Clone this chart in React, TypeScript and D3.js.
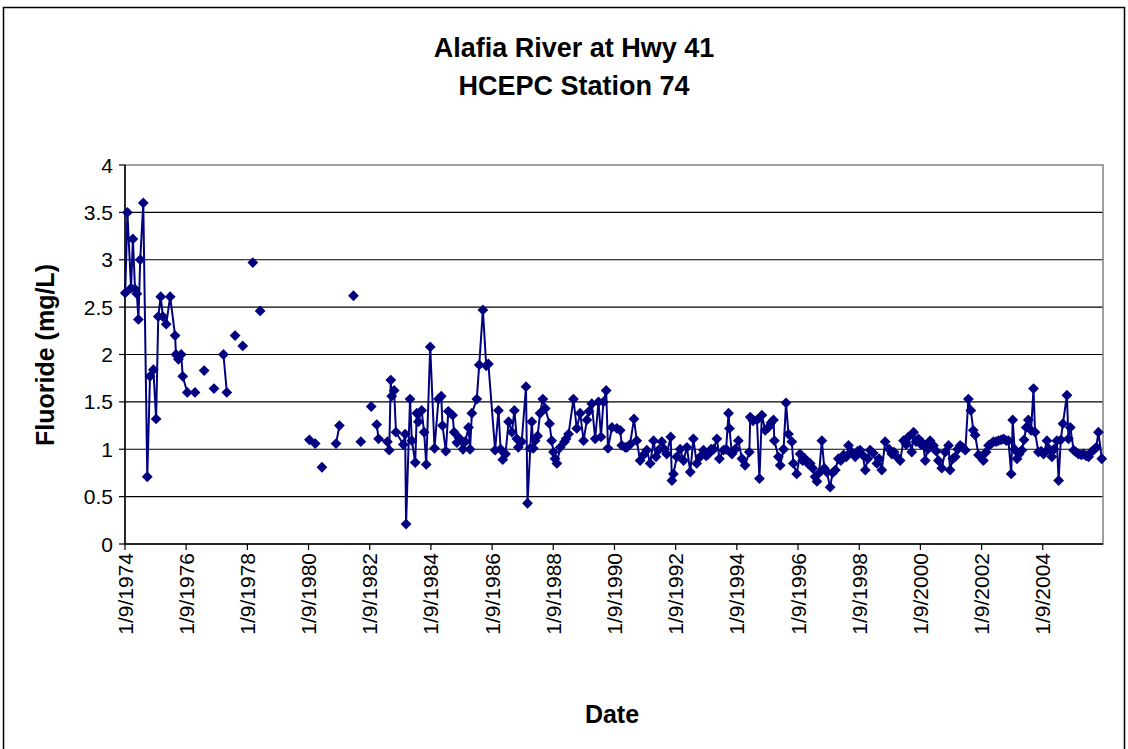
import React from "react";
import * as d3 from "d3";

// Decimal-year sample dates (null = gap in the record, breaks the line)
const sampleYears: (number | null)[] = [
  1974.03, 1974.10, 1974.22, 1974.28, 1974.35, 1974.41, 1974.46, 1974.52, 1974.62, 1974.75,
  1974.84, 1974.95, 1975.04, 1975.11, 1975.19, 1975.26, 1975.37, 1975.50, 1975.66, 1975.69,
  1975.77, 1975.86, 1975.91, 1976.06, 1976.31, null,
  1976.61, null, 1976.93, null, 1977.24, 1977.35, null, 1977.62, null, 1977.87, null,
  1978.20, null, 1978.44, null,
  1980.05, 1980.24, null, 1980.46, null, 1980.92, 1981.03, null, 1981.49, null, 1981.73, null,
  1982.07, null,
  1982.25, 1982.31, 1982.60, 1982.66, 1982.71, 1982.74, 1982.82, 1982.88, 1983.12, 1983.18,
  1983.21, 1983.34, 1983.40, 1983.51, 1983.56, 1983.61, 1983.72, 1983.80, 1983.87, 1984.00,
  1984.14, 1984.27, 1984.36, 1984.40, 1984.51, 1984.59, 1984.73, 1984.78, 1984.87, 1984.94,
  1985.07, 1985.14, 1985.25, 1985.30, 1985.36, 1985.52, 1985.60, 1985.72, 1985.83, 1985.90,
  1986.12, 1986.23, 1986.30, 1986.37, 1986.46, 1986.56, 1986.67, 1986.75, 1986.83, 1986.88,
  1986.99, 1987.13, 1987.18, 1987.27, 1987.32, 1987.37, 1987.43, 1987.51, 1987.59, 1987.68,
  1987.76, 1987.90, 1987.97, 1988.03, 1988.08, 1988.14, 1988.25, 1988.39, 1988.44, 1988.52,
  1988.68, 1988.79, 1988.90, 1989.01, 1989.12, 1989.19, 1989.28, 1989.39, 1989.50, 1989.58,
  1989.66, 1989.75, 1989.81, 1989.94, 1990.10, 1990.21, 1990.26, 1990.37, 1990.43, 1990.53,
  1990.66, 1990.75, 1990.86, 1990.97, 1991.08, 1991.19, 1991.30, 1991.38, 1991.46, 1991.57,
  1991.65, 1991.73, 1991.86, 1991.90, 1991.95, 1992.06, 1992.17, 1992.28, 1992.39, 1992.50,
  1992.60, 1992.71, 1992.82, 1992.93, 1993.02, 1993.09, 1993.18, 1993.26, 1993.37, 1993.45,
  1993.58, 1993.67, 1993.75, 1993.78, 1993.86, 1993.97, 1994.07, 1994.19, 1994.29, 1994.43,
  1994.46, 1994.55, 1994.68, 1994.76, 1994.84, 1994.95, 1995.05, 1995.14, 1995.22, 1995.25,
  1995.38, 1995.44, 1995.55, 1995.63, 1995.71, 1995.82, 1995.87, 1995.98, 1996.09, 1996.17,
  1996.25, 1996.34, 1996.42, 1996.50, 1996.58, 1996.64, 1996.71, 1996.80, 1996.88, 1996.96,
  1997.07, 1997.15, 1997.24, 1997.34, 1997.42, 1997.51, 1997.60, 1997.67, 1997.78, 1997.89,
  1997.97, 1998.05, 1998.13, 1998.22, 1998.30, 1998.38, 1998.48, 1998.60, 1998.67, 1998.76,
  1998.87, 1999.00, 1999.09, 1999.16, 1999.25, 1999.36, 1999.47, 1999.56, 1999.63, 1999.74,
  1999.80, 1999.88, 1999.96, 2000.05, 2000.11, 2000.18, 2000.26, 2000.34, 2000.45, 2000.54,
  2000.61, 2000.72, 2000.83, 2000.94, 2000.99, 2001.08, 2001.16, 2001.24, 2001.32, 2001.40,
  2001.49, 2001.59, 2001.67, 2001.75, 2001.81, 2001.92, 2001.99, 2002.08, 2002.17, 2002.25,
  2002.34, 2002.41, 2002.50, 2002.57, 2002.66, 2002.74, 2002.83, 2002.90, 2002.99, 2003.04,
  2003.10, 2003.18, 2003.25, 2003.34, 2003.41, 2003.48, 2003.55, 2003.64, 2003.72, 2003.77,
  2003.88, 2003.97, 2004.05, 2004.16, 2004.23, 2004.32, 2004.39, 2004.48, 2004.54, 2004.61,
  2004.68, 2004.81, 2004.86, 2004.92, 2005.03, 2005.11, 2005.19, 2005.28, 2005.36, 2005.44,
  2005.52, 2005.60, 2005.68, 2005.77, 2005.84, 2005.95,
];

// Fluoride (mg/L)
const fluoride: (number | null)[] = [
  2.65, 3.50, 2.70, 3.22, 2.69, 2.64, 2.37, 3.00, 3.60, 0.71,
  1.77, 1.84, 1.32, 2.40, 2.61, 2.40, 2.32, 2.61, 2.20, 2.00,
  1.95, 2.00, 1.77, 1.60, 1.60, null,
  1.83, null, 1.64, null, 2.00, 1.60, null, 2.20, null, 2.09, null,
  2.97, null, 2.46, null,
  1.10, 1.06, null, 0.81, null, 1.06, 1.25, null, 2.62, null, 1.08, null,
  1.45, null,
  1.26, 1.11, 1.08, 0.99, 1.73, 1.56, 1.62, 1.18, 1.05, 1.16,
  0.21, 1.53, 1.09, 0.86, 1.38, 1.29, 1.41, 1.18, 0.84, 2.08,
  1.01, 1.53, 1.56, 1.25, 0.98, 1.40, 1.36, 1.18, 1.07, 1.12,
  1.00, 1.08, 1.23, 1.00, 1.38, 1.53, 1.89, 2.47, 1.88, 1.90,
  0.99, 1.41, 1.00, 0.89, 0.95, 1.29, 1.18, 1.41, 1.11, 1.02,
  1.08, 1.66, 0.43, 1.01, 1.29, 1.01, 1.09, 1.14, 1.38, 1.53,
  1.43, 1.27, 1.09, 0.97, 0.90, 0.85, 1.02, 1.08, 1.11, 1.16,
  1.53, 1.22, 1.38, 1.09, 1.31, 1.40, 1.48, 1.11, 1.50, 1.13,
  1.50, 1.62, 1.01, 1.23, 1.22, 1.20, 1.04, 1.02, 1.02, 1.05,
  1.32, 1.09, 0.88, 0.94, 0.99, 0.85, 1.09, 0.92, 0.99, 1.08,
  1.00, 0.95, 1.13, 0.67, 0.74, 0.92, 1.00, 0.88, 1.02, 0.76,
  1.11, 0.85, 0.92, 0.99, 0.93, 0.95, 1.00, 1.00, 1.11, 0.90,
  0.99, 1.00, 1.38, 1.22, 0.95, 1.00, 1.09, 0.90, 0.83, 0.97,
  1.34, 1.30, 1.31, 0.69, 1.36, 1.20, 1.23, 1.28, 1.31, 1.09,
  0.92, 0.83, 1.00, 1.49, 1.16, 1.08, 0.85, 0.74, 0.95, 0.88,
  0.90, 0.85, 0.85, 0.80, 0.71, 0.66, 0.75, 1.09, 0.80, 0.76,
  0.60, 0.75, 0.78, 0.90, 0.88, 0.94, 0.92, 1.04, 0.97, 0.92,
  0.98, 0.99, 0.94, 0.78, 0.90, 0.99, 0.96, 0.85, 0.90, 0.78,
  1.08, 1.00, 0.95, 0.97, 0.92, 0.88, 1.09, 1.05, 1.13, 0.97,
  1.18, 1.08, 1.11, 1.05, 1.06, 0.88, 1.00, 1.09, 1.04, 0.98,
  0.88, 0.80, 0.97, 1.04, 0.78, 0.90, 0.92, 1.00, 1.04, 1.02,
  0.99, 1.53, 1.41, 1.20, 1.15, 0.94, 0.92, 0.88, 0.97, 1.04,
  1.06, 1.08, 1.08, 1.09, 1.10, 1.11, 1.09, 1.09, 0.74, 1.31,
  1.00, 0.90, 0.95, 0.99, 1.10, 1.23, 1.31, 1.20, 1.64, 1.18,
  0.97, 0.98, 0.95, 1.09, 1.00, 0.92, 1.00, 1.09, 0.67, 1.10,
  1.27, 1.57, 1.11, 1.23, 0.99, 0.97, 0.95, 0.94, 0.95, 0.93,
  0.92, 0.97, 0.99, 1.02, 1.18, 0.90,
];

const xTickLabels = [
  "1/9/1974", "1/9/1976", "1/9/1978", "1/9/1980", "1/9/1982", "1/9/1984", "1/9/1986", "1/9/1988",
  "1/9/1990", "1/9/1992", "1/9/1994", "1/9/1996", "1/9/1998", "1/9/2000", "1/9/2002", "1/9/2004",
];
const yTicks = [0, 0.5, 1, 1.5, 2, 2.5, 3, 3.5, 4];
const titleLines = ["Alafia River at Hwy 41", "HCEPC Station 74"];
const xAxisTitle = "Date";
const yAxisTitle = "Fluoride (mg/L)";
const axisStart = "1/9/1974";
const axisEndYear = 2005.99;

const W = 1128;
const H = 749;
const plot = { left: 125, top: 165, right: 1103, bottom: 544 };
const NAVY = "#000080";
const FONT = "'Liberation Sans', Arial, sans-serif";

function yearToDate(y: number): Date {
  const yr = Math.floor(y);
  const s = Date.UTC(yr, 0, 1);
  const e = Date.UTC(yr + 1, 0, 1);
  return new Date(s + (y - yr) * (e - s));
}

const parse = d3.utcParse("%m/%d/%Y");

export default function App() {
  const x = d3
    .scaleUtc()
    .domain([parse(axisStart) as Date, yearToDate(axisEndYear)])
    .range([plot.left, plot.right]);
  const y = d3.scaleLinear().domain([0, 4]).range([plot.bottom, plot.top]);

  const pts = sampleYears.map((yr, i) => ({
    d: yr == null ? null : yearToDate(yr),
    v: fluoride[i],
  }));

  const line = d3
    .line<{ d: Date | null; v: number | null }>()
    .defined((p) => p.d != null && p.v != null)
    .x((p) => x(p.d as Date))
    .y((p) => y(p.v as number));

  const diamond = "M0,-5.4L5.4,0L0,5.4L-5.4,0Z";

  return (
    <svg
      width={W}
      height={H}
      style={{ position: "absolute", left: 0, top: 0, background: "#fff" }}
      fontFamily={FONT}
    >
      <rect x={0} y={0} width={W} height={H} fill="#fff" />
      <rect x={3.5} y={7.5} width={1121} height={780} fill="none" stroke="#000" strokeWidth={1.5} />

      {/* title */}
      {titleLines.map((t, i) => (
        <text key={t} x={574} y={57 + i * 38} textAnchor="middle" fontSize={27} fontWeight="bold">
          {t}
        </text>
      ))}

      {/* gridlines */}
      {yTicks.filter((t) => t > 0 && t < 4).map((t) => (
        <line key={t} x1={plot.left} x2={plot.right} y1={y(t)} y2={y(t)} stroke="#000" strokeWidth={1.2} />
      ))}
      {/* plot border */}
      <rect
        x={plot.left}
        y={plot.top}
        width={plot.right - plot.left}
        height={plot.bottom - plot.top}
        fill="none"
        stroke="#808080"
        strokeWidth={1.5}
      />

      {/* axes */}
      <line x1={plot.left} x2={plot.left} y1={plot.top} y2={plot.bottom} stroke="#000" strokeWidth={1.5} />
      <line x1={plot.left} x2={plot.right} y1={plot.bottom} y2={plot.bottom} stroke="#000" strokeWidth={1.5} />

      {yTicks.map((t) => (
        <g key={t}>
          <line x1={plot.left - 6} x2={plot.left} y1={y(t)} y2={y(t)} stroke="#000" strokeWidth={1.2} />
          <text x={plot.left - 12} y={y(t)} dy="0.36em" textAnchor="end" fontSize={21}>
            {String(t)}
          </text>
        </g>
      ))}

      {xTickLabels.map((lab) => {
        const px = x(parse(lab) as Date);
        return (
          <g key={lab}>
            <line x1={px} x2={px} y1={plot.bottom} y2={plot.bottom + 6} stroke="#000" strokeWidth={1.2} />
            <text
              transform={`translate(${px},${plot.bottom + 9}) rotate(-90)`}
              dy="0.36em"
              textAnchor="end"
              fontSize={21}
            >
              {lab}
            </text>
          </g>
        );
      })}

      {/* axis titles */}
      <text x={612} y={723} textAnchor="middle" fontSize={25} fontWeight="bold">
        {xAxisTitle}
      </text>
      <text transform="translate(54,355) rotate(-90)" textAnchor="middle" fontSize={25} fontWeight="bold">
        {yAxisTitle}
      </text>

      {/* series */}
      <path d={line(pts) || ""} fill="none" stroke={NAVY} strokeWidth={2} />
      {pts
        .filter((p) => p.d != null && p.v != null)
        .map((p, i) => (
          <path key={i} d={diamond} transform={`translate(${x(p.d as Date)},${y(p.v as number)})`} fill={NAVY} />
        ))}
    </svg>
  );
}
